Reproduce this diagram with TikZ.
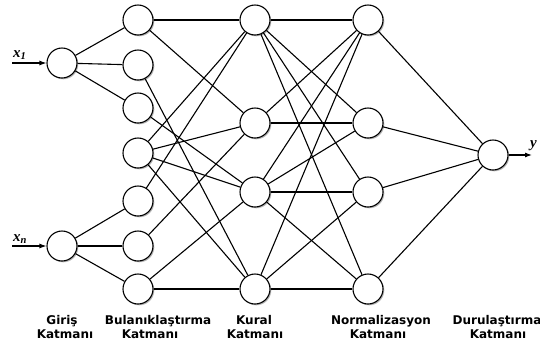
\documentclass[tikz,border=0pt]{standalone}
\usepackage{fontspec}
\newfontfamily\lblfont{DejaVu Sans}
\newfontfamily\varfont{Liberation Serif}
\usetikzlibrary{arrows.meta,shadows}
\begin{document}
\begin{tikzpicture}[x=1pt,y=1pt,
  neuron/.style={circle, draw, line width=1.1pt, minimum size=30pt, inner sep=0pt, fill=white,
    drop shadow={shadow xshift=1.3pt, shadow yshift=-1.3pt, fill=black!35, opacity=0.8}},
  conn/.style={line width=1.1pt},
  inarrow/.style={line width=1.1pt, -{Latex[length=7pt,width=5pt]}},
  layerlbl/.style={anchor=base, inner sep=0pt, font=\lblfont\bfseries\fontsize{12}{14}\selectfont},
  varlbl/.style={anchor=base west, inner sep=0pt, font=\varfont\bfseries\itshape\fontsize{15}{17}\selectfont}]
\useasboundingbox (0,0) rectangle (540,-349);
% input layer
\node[neuron] (I1) at (62,-63) {};
\node[neuron] (I2) at (62,-246) {};
% fuzzification layer
\node[neuron] (F1) at (138,-20) {};
\node[neuron] (F2) at (138,-65) {};
\node[neuron] (F3) at (138,-108) {};
\node[neuron] (F4) at (138,-153) {};
\node[neuron] (F5) at (138,-201) {};
\node[neuron] (F6) at (138,-246) {};
\node[neuron] (F7) at (138,-289) {};
% rule layer
\node[neuron] (K1) at (255,-20) {};
\node[neuron] (K2) at (255,-123) {};
\node[neuron] (K3) at (255,-192) {};
\node[neuron] (K4) at (255,-289) {};
% normalization layer
\node[neuron] (N1) at (368,-20) {};
\node[neuron] (N2) at (368,-123) {};
\node[neuron] (N3) at (368,-192) {};
\node[neuron] (N4) at (368,-289) {};
% output
\node[neuron] (O) at (493,-155) {};
% inputs
\coordinate (x1s) at (12,-63);
\coordinate (xns) at (12,-246);
\coordinate (ye) at (532,-155);
\draw[inarrow] (x1s) -- (I1);
\draw[inarrow] (xns) -- (I2);
\draw[inarrow] (O) -- (ye);
\node[varlbl] (lx1) at (13,-57) {x\textsubscript{1}};
\node[varlbl] (lxn) at (13,-241) {x\textsubscript{n}};
\node[varlbl] (ly) at (530,-147) {y};
% connections
\foreach \a/\b in {I1/F1,I1/F2,I1/F3,I2/F5,I2/F6,I2/F7,
  F1/K1,F1/K2,F2/K4,F3/K3,F4/K1,F4/K2,F4/K3,F4/K4,F5/K1,F6/K2,F7/K3,F7/K4,
  K1/N1,K1/N2,K1/N3,K1/N4,K2/N1,K2/N2,K3/N1,K3/N2,K3/N3,K3/N4,K4/N1,K4/N3,K4/N4,
  N1/O,N2/O,N3/O,N4/O}
  \draw[conn] (\a) -- (\b);
% layer labels
\node[layerlbl] (g1) at (62,-324) {Giriş};
\node[layerlbl] (g2) at (65,-338) {Katmanı};
\node[layerlbl] (b1) at (158,-324) {Bulanıklaştırma};
\node[layerlbl] (b2) at (150,-338) {Katmanı};
\node[layerlbl] (k1) at (254,-324) {Kural};
\node[layerlbl] (k2) at (255,-338) {Katmanı};
\node[layerlbl] (n1) at (381,-324) {Normalizasyon};
\node[layerlbl] (n2) at (378,-338) {Katmanı};
\node[layerlbl] (d1) at (497,-324) {Durulaştırma};
\node[layerlbl] (d2) at (498,-338) {Katmanı};
\end{tikzpicture}
\end{document}
